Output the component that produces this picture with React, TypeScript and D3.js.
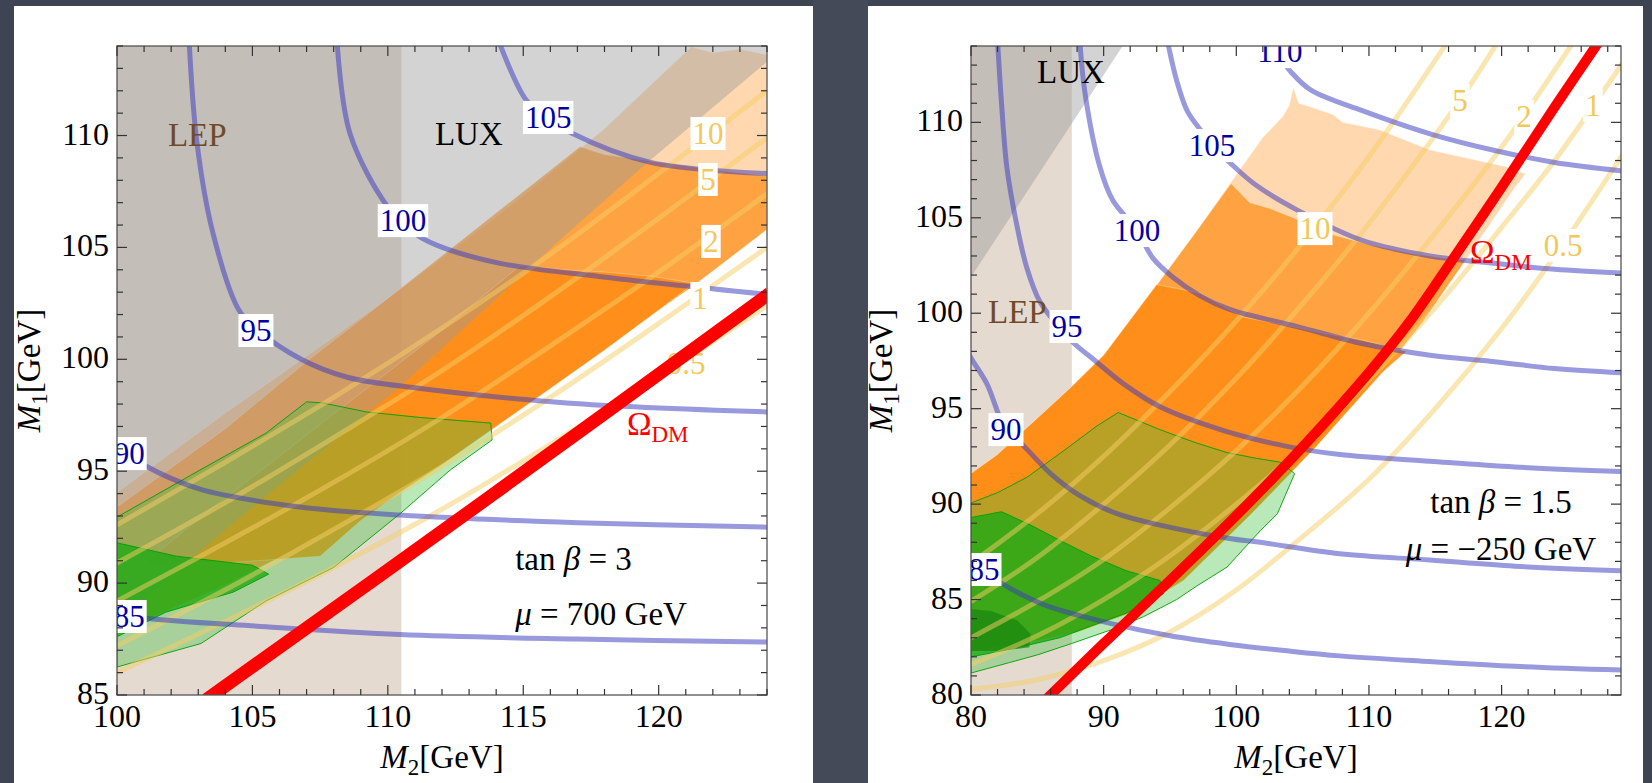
import React from 'react';
import * as d3 from 'd3';

type Pt = [number, number];

// ================= LEFT PANEL: tanβ = 3, μ = 700 GeV =================
const leftXDomain: Pt = [100, 124];
const leftYDomain: Pt = [85, 114];
const leftXMajor = [100, 105, 110, 115, 120];
const leftYMajor = [85, 90, 95, 100, 105, 110];
const leftLEPLimit = 110.5;

const leftLUX: Pt[] = [[100, 88.3], [105, 93.4], [110.45, 98.76], [116.6, 105.6], [119.6, 108.8], [124, 113.3], [124, 114.6], [100, 114.6]];

const leftLightTier: Pt[] = [
  [100, 94.05], [104, 97.6], [108, 101.0], [111, 103.6], [114.8, 107.1], [118, 110.3], [121.2, 113.95],
  [122, 113.7], [123, 113.85], [124, 113.6], [124, 105.8], [121.3, 103.3], [120, 102.2], [116, 98.7],
  [112, 95.3], [110.5, 94.1], [108, 92.4], [104, 89.9], [100, 87.8]];
const leftMediumTier: Pt[] = [
  [100, 93.4], [104, 96.9], [107, 99.9], [110.4, 103.1], [114.8, 107.3], [117.1, 109.5], [118, 109.15],
  [119.5, 108.9], [121, 108.65], [122.5, 108.4], [124, 108.2], [124, 105.8], [121.3, 103.3], [120, 102.2],
  [116, 98.7], [112, 95.3], [110.5, 94.1], [108, 92.4], [104, 89.9], [100, 87.8]];
const leftDarkTier: Pt[] = [
  [101.0, 90.9], [104.0, 93.8], [108.9, 98.4], [112.0, 101.3], [114.9, 104.2], [116.5, 104.0], [118.0, 103.9],
  [119.8, 103.7], [121.3, 103.4], [120, 102.2], [118, 100.4], [116, 98.7], [114, 97.0], [112, 95.3],
  [110.5, 94.1], [109, 92.8], [107.5, 91.2], [104, 90.9]];

const leftGreenLight: Pt[] = [
  [100, 92.95], [103.06, 95.05], [105.5, 96.7], [107.0, 98.1], [107.6, 98.05], [109.2, 97.65], [111.2, 97.4],
  [113.8, 97.15], [113.85, 96.4], [112.3, 95.05], [110.45, 93.1], [108, 90.7], [105.5, 89.2], [103.1, 87.3], [100, 86.25]];
const leftGreenMid: Pt[] = [[100, 91.8], [102.2, 91.2], [105.0, 90.8], [105.6, 90.4], [104.3, 89.6], [101.8, 88.7], [100, 87.6]];
const leftGreenDark: Pt[] = [];

const leftYellow: { level: string; pts: Pt[] }[] = [
  { level: '10', pts: [[100, 92.6], [104, 95.4], [108, 98.3], [112, 101.4], [116, 104.7], [120, 108.3], [124, 112.0]] },
  { level: '5', pts: [[100, 90.9], [104, 93.6], [108, 96.5], [112, 99.5], [116, 102.8], [120, 106.3], [124, 109.9]] },
  { level: '2', pts: [[100, 89.2], [104, 91.8], [108, 94.5], [112, 97.4], [116, 100.6], [120, 103.9], [124, 107.4]] },
  { level: '1', pts: [[100, 87.2], [104, 89.7], [108, 92.4], [112, 95.2], [116, 98.3], [120, 101.6], [124, 105.0]] },
  { level: '0.5', pts: [[100, 86.0], [104, 88.3], [108, 90.7], [112, 93.3], [116, 96.2], [120, 99.2], [124, 102.4]] },
];
const leftBlue: { level: string; pts: Pt[] }[] = [
  { level: '85', pts: [[100, 88.7], [100.96, 88.45], [105.5, 88.05], [110.45, 87.7], [117, 87.5], [124, 87.37]] },
  { level: '90', pts: [[100, 96.1], [100.96, 95.3], [103.06, 94.2], [106.76, 93.4], [110.45, 93.04], [117, 92.7], [124, 92.5]] },
  { level: '95', pts: [[102.66, 114.3], [102.95, 109.7], [103.55, 105.6], [104.5, 102.2], [105.1, 101.4], [106.8, 100.0], [108.5, 99.2], [111.2, 98.7], [116.6, 98.05], [124, 97.65]] },
  { level: '100', pts: [[108.12, 114.3], [108.6, 110.1], [110.0, 106.8], [110.9, 105.7], [111.8, 105.1], [114.1, 104.3], [117.8, 103.7], [124, 102.9]] },
  { level: '105', pts: [[114.07, 114.3], [115.1, 111.6], [115.9, 110.8], [116.8, 110.1], [119.7, 108.8], [124, 108.3]] },
];
const leftRelic: Pt[] = [[103.3, 84.8], [113.7, 93.8], [124.1, 102.95]];
const leftBlueLabels: { t: string; p: Pt }[] = [
  { t: '105', p: [115.92, 110.83] }, { t: '100', p: [110.56, 106.22] }, { t: '95', p: [105.13, 101.31] },
  { t: '90', p: [100.45, 95.81] }, { t: '85', p: [100.45, 88.53] }];
const leftYellowLabels: { t: string; p: Pt; box: boolean }[] = [
  { t: '10', p: [121.82, 110.11], box: true }, { t: '5', p: [121.82, 108.06], box: true },
  { t: '2', p: [121.93, 105.29], box: true }, { t: '1', p: [121.53, 102.74], box: true },
  { t: '0.5', p: [121.01, 99.83], box: false }];

// ================= RIGHT PANEL: tanβ = 1.5, μ = −250 GeV =================
const rightXDomain: Pt = [80, 129];
const rightYDomain: Pt = [80, 114];
const rightXMajor = [80, 90, 100, 110, 120];
const rightYMajor = [80, 85, 90, 95, 100, 105, 110];
const rightLEPLimit = 87.6;

const rightLUX: Pt[] = [[80, 101.9], [92.0, 114.6], [80, 114.6]];

const rightLightTier: Pt[] = [
  [80, 91.6], [82, 92.6], [85, 94.5], [87.5, 96.1], [90, 97.8], [94.25, 101.7], [97, 104.3], [99.75, 107.0],
  [102, 109.2], [103.5, 110.3], [104.0, 110.9], [104.3, 111.8], [104.7, 111.0], [105.6, 110.8], [107.3, 110.4],
  [108.0, 110.0], [110.8, 109.6], [114.6, 108.55], [117.5, 108.1], [120.4, 107.66], [121.8, 107.3], [121, 106.6],
  [117, 102.5], [114, 99.5], [111, 96.9], [106, 93.0], [101, 89.4], [96, 86.0], [92, 84.3], [88, 83.3], [84, 82.7], [80, 82.3]];
const rightMediumTier: Pt[] = [
  [80, 91.6], [82, 92.6], [85, 94.5], [87.5, 96.1], [90, 97.8], [94.25, 101.7], [97, 104.3], [99.6, 106.8],
  [101.0, 105.8], [102.5, 105.5], [104.3, 105.0], [106.8, 104.2], [110, 103.6], [113.1, 103.15], [115.6, 102.9],
  [117.3, 102.8], [117, 102.5], [114, 99.5], [111, 96.9], [106, 93.0], [101, 89.4], [96, 86.0], [92, 84.3],
  [88, 83.3], [84, 82.7], [80, 82.3]];
const rightDarkTier: Pt[] = [
  [80, 91.6], [82, 92.6], [85, 94.5], [87.5, 96.1], [90, 97.8], [94.0, 101.5], [95.5, 101.3], [97.3, 101.05],
  [100.5, 99.8], [104.3, 99.3], [107, 98.9], [109.55, 98.6], [111.6, 98.2], [112.8, 98.0], [111, 96.9],
  [106, 93.0], [101, 89.4], [96, 86.0], [92, 84.3], [88, 83.3], [84, 82.7], [80, 82.3]];

const rightGreenLight: Pt[] = [
  [80, 90.06], [82, 90.6], [84.2, 91.4], [87, 92.8], [89.5, 94.1], [91.1, 94.8], [92.5, 94.4], [94.25, 93.9],
  [97, 93.2], [99.3, 92.7], [101.5, 92.4], [103.3, 92.2], [104.4, 91.6], [103.1, 89.5], [101.8, 88.6],
  [99.3, 86.7], [97, 85.7], [95.5, 85.0], [93, 84.1], [90.5, 83.4], [87.6, 82.7], [85, 82.1], [82.9, 81.7], [80, 81.15]];
const rightGreenMid: Pt[] = [
  [80, 89.3], [82.3, 89.6], [84.5, 88.9], [86.7, 88.1], [89, 87.3], [91.75, 86.5], [94.25, 86.0], [94.5, 85.3],
  [93.5, 84.9], [91.75, 84.3], [89, 83.6], [86.7, 83.0], [83, 82.4], [80, 82.0]];
const rightGreenDark: Pt[] = [[80, 84.5], [81.5, 84.4], [83.5, 83.9], [84.5, 83.2], [84.4, 82.5], [82, 82.3], [80, 82.3]];

const rightYellow: { level: string; pts: Pt[] }[] = [
  { level: '10', pts: [[80, 86.9], [85, 89.5], [90, 92.5], [95, 95.9], [100, 99.6], [105, 103.7], [110, 108.2], [116, 114.3]] },
  { level: '5', pts: [[80, 84.9], [85, 87.2], [90, 90.0], [95, 93.1], [100, 96.6], [105, 100.5], [110, 104.7], [116.9, 111.2], [119.8, 114.3]] },
  { level: '2', pts: [[80, 83.0], [85, 84.9], [90, 87.1], [95, 89.8], [100, 92.8], [105, 96.2], [110, 100.0], [115, 104.2], [120, 108.7], [125.5, 114.3]] },
  { level: '1', pts: [[80, 81.6], [85, 83.1], [90, 85.0], [95, 87.3], [100, 90.0], [105, 93.0], [110, 96.5], [115, 100.3], [120, 104.5], [124, 108.0], [129.2, 113.2]] },
  { level: '0.5', pts: [[80, 80.3], [85, 80.8], [90, 81.8], [95, 83.3], [100, 85.5], [105, 88.3], [110, 91.3], [115, 95.0], [120, 99.2], [124.6, 103.6], [129.2, 108.4]] },
];
const rightBlue: { level: string; pts: Pt[] }[] = [
  { level: '85', pts: [[79.5, 87.4], [81.0, 86.6], [82.0, 86.0], [84, 85.2], [86, 84.6], [90.5, 83.75], [95, 83.1], [99.5, 82.65], [104, 82.3], [107.8, 82.05], [114.6, 81.75], [121, 81.5], [129.2, 81.3]] },
  { level: '90', pts: [[79.6, 98.2], [80, 97.65], [81.2, 96.3], [82.6, 93.93], [83.9, 93.1], [86, 91.6], [88.3, 90.4], [91, 89.5], [94.25, 88.9], [99.5, 88.2], [101.8, 88.0], [107.8, 87.4], [114.6, 87.07], [121, 86.75], [129.2, 86.5]] },
  { level: '95', pts: [[82.0, 114.3], [82.3, 111], [82.7, 107.66], [83.4, 104.8], [84.2, 102.4], [85.2, 100.6], [86.5, 99.4], [87.8, 98.4], [89.2, 97.6], [91.5, 96.3], [94.25, 95.1], [99.3, 93.8], [104, 93.0], [107.8, 92.6], [114.6, 92.25], [121, 91.95], [129.2, 91.7]] },
  { level: '100', pts: [[88.2, 114.3], [88.6, 111.5], [89.7, 107.7], [90.7, 105.9], [92.5, 104.36], [93.7, 102.9], [95.2, 101.9], [97.3, 100.9], [99.5, 100.2], [104.6, 99.3], [109.55, 98.4], [114.6, 97.8], [119.65, 97.45], [124, 97.1], [129.2, 96.87]] },
  { level: '105', pts: [[94.8, 114.3], [95.5, 112.2], [96.3, 110.6], [97.3, 109.6], [98.2, 108.8], [99.5, 107.9], [101.5, 106.7], [104.6, 105.4], [109.55, 103.8], [114.6, 103.0], [119.65, 102.6], [124, 102.3], [129.2, 102.1]] },
  { level: '110', pts: [[102.3, 114.3], [104.05, 112.7], [105.6, 111.7], [109.55, 110.6], [114.6, 109.4], [119.65, 108.5], [124, 107.9], [129.2, 107.45]] },
];
const rightRelic: Pt[] = [[85.7, 79.8], [90, 82.7], [95, 86.0], [100, 89.4], [105, 93.0], [110, 96.9], [113, 99.5], [116, 102.5], [120, 106.6], [124, 110.8], [127.7, 114.6]];
const rightBlueLabels: { t: string; p: Pt }[] = [
  { t: '110', p: [103.29, 113.73] }, { t: '105', p: [98.17, 108.81] }, { t: '100', p: [92.51, 104.36] },
  { t: '95', p: [87.24, 99.33] }, { t: '90', p: [82.64, 93.93] }, { t: '85', p: [80.98, 86.6] }];
const rightYellowLabels: { t: string; p: Pt; box: boolean }[] = [
  { t: '10', p: [105.93, 104.46], box: true }, { t: '5', p: [116.86, 111.17], box: true },
  { t: '2', p: [121.69, 110.33], box: true }, { t: '1', p: [126.89, 110.91], box: true },
  { t: '0.5', p: [124.63, 103.57], box: true }];

const FONT = '"Liberation Serif", "Times New Roman", Times, serif';

type PanelCfg = {
  id: string;
  xDomain: Pt; yDomain: Pt;
  px: [number, number]; py: [number, number];
  xMajor: number[]; yMajor: number[]; xMinorStep: number; yMinorStep: number;
  lep: number; lux: Pt[];
  tiers: Pt[][]; greens: Pt[][];
  yellow: { level: string; pts: Pt[] }[]; blue: { level: string; pts: Pt[] }[];
  relic: Pt[]; relicWidth: number;
  blueLabels: { t: string; p: Pt }[]; yellowLabels: { t: string; p: Pt; box: boolean }[];
  lepText: Pt; luxText: Pt; omegaText: Pt;
  tanText: string; muText: string; annot: Pt[]; annotAnchor: 'start' | 'middle';
  yTitleX: number;
};

function Panel({ c }: { c: PanelCfg }) {
  const x = d3.scaleLinear().domain(c.xDomain).range(c.px);
  const y = d3.scaleLinear().domain(c.yDomain).range(c.py);
  const closed = d3.line<Pt>().x(d => x(d[0])).y(d => y(d[1])).curve(d3.curveLinearClosed);
  const smooth = d3.line<Pt>().x(d => x(d[0])).y(d => y(d[1])).curve(d3.curveCatmullRom.alpha(0.5));
  const x0 = c.px[0], x1 = c.px[1], yb = c.py[0], yt = c.py[1];
  const W = x1 - x0, H = yb - yt;
  const clip = `clip-${c.id}`;
  const xMinor = d3.range(c.xDomain[0], c.xDomain[1] + 1e-6, c.xMinorStep);
  const yMinor = d3.range(c.yDomain[0], c.yDomain[1] + 1e-6, c.yMinorStep);
  const tierAlpha = [0.34, 0.7, 0.88];
  const greenFill = ['rgb(60,190,60)', 'rgb(30,170,20)', 'rgb(25,135,15)'];
  const greenAlpha = [0.36, 0.8, 0.75];
  const labelFs = 31;
  const boxW = (t: string) => t.replace('.', '').length * 15.5 + (t.includes('.') ? 8 : 0) + 4;
  const midX = (x0 + x1) / 2, midY = (yt + yb) / 2;

  return (
    <g fontFamily={FONT}>
      <defs>
        <clipPath id={clip}><rect x={x0} y={yt} width={W} height={H} /></clipPath>
      </defs>
      <g clipPath={`url(#${clip})`}>
        <rect x={x0} y={yt} width={W} height={H} fill="#ffffff" />
        <rect x={x0} y={yt} width={x(c.lep) - x0} height={H} fill="rgb(200,180,160)" fillOpacity={0.49} />
        {c.tiers.map((t, i) => (
          <path key={'t' + i} d={closed(t) || ''} fill="rgb(255,140,20)" fillOpacity={tierAlpha[i]}
            stroke="#fff3e0" strokeOpacity={0.35} strokeWidth={1} />
        ))}
        <path d={closed(c.lux) || ''} fill="rgb(156,156,156)" fillOpacity={0.444} />
        {c.greens.map((g, i) => g.length ? (
          <path key={'g' + i} d={closed(g) || ''} fill={greenFill[i]} fillOpacity={greenAlpha[i]}
            stroke="rgb(0,160,0)" strokeWidth={1} strokeOpacity={i === 2 ? 0 : 0.9} />
        ) : null)}
        {c.yellow.map(l => (
          <path key={'y' + l.level} d={smooth(l.pts) || ''} fill="none" stroke="rgb(245,205,100)" strokeOpacity={0.5} strokeWidth={5} />
        ))}
        {c.blue.map(l => (
          <path key={'b' + l.level} d={smooth(l.pts) || ''} fill="none" stroke="rgb(60,60,190)" strokeOpacity={0.52} strokeWidth={5} />
        ))}
        {c.yellowLabels.map(l => (
          <g key={'yl' + l.t}>
            {l.box && <rect x={x(l.p[0]) - boxW(l.t) / 2} y={y(l.p[1]) - 16} width={boxW(l.t)} height={33} fill="#fff" />}
            <text x={x(l.p[0])} y={y(l.p[1]) + 11} textAnchor="middle" fontSize={labelFs} fill="rgb(242,200,90)">{l.t}</text>
          </g>
        ))}
        <path d={smooth(c.relic) || ''} fill="none" stroke="#ff0000" strokeWidth={c.relicWidth} />
        {c.blueLabels.map(l => (
          <g key={'bl' + l.t}>
            <rect x={x(l.p[0]) - boxW(l.t) / 2} y={y(l.p[1]) - 16} width={boxW(l.t)} height={33} fill="#fff" />
            <text x={x(l.p[0])} y={y(l.p[1]) + 11} textAnchor="middle" fontSize={labelFs} fill="rgb(0,0,165)">{l.t}</text>
          </g>
        ))}
        <text x={x(c.lepText[0])} y={y(c.lepText[1])} fontSize={33} fill="rgb(110,75,42)">LEP</text>
        <text x={x(c.luxText[0])} y={y(c.luxText[1])} fontSize={33} fill="#000">LUX</text>
        <text x={x(c.omegaText[0])} y={y(c.omegaText[1])} fontSize={33} fill="#ff0000">
          Ω<tspan fontSize={23} dy={7}>DM</tspan>
        </text>
        <text x={x(c.annot[0][0])} y={y(c.annot[0][1])} fontSize={33} fill="#000" textAnchor={c.annotAnchor}>
          tan <tspan fontStyle="italic">β</tspan> = {c.tanText}
        </text>
        <text x={x(c.annot[1][0])} y={y(c.annot[1][1])} fontSize={33} fill="#000" textAnchor={c.annotAnchor}>
          <tspan fontStyle="italic">μ</tspan> = {c.muText}
        </text>
      </g>
      <rect x={x0} y={yt} width={W} height={H} fill="none" stroke="#555" strokeWidth={1.3} />
      {xMinor.map(v => {
        const major = c.xMajor.some(m => Math.abs(m - v) < 1e-6);
        const L = major ? 10 : 6;
        return (
          <g key={'xt' + v} stroke="#333" strokeWidth={1.2}>
            <line x1={x(v)} x2={x(v)} y1={yb} y2={yb - L} />
            <line x1={x(v)} x2={x(v)} y1={yt} y2={yt + L} />
          </g>
        );
      })}
      {yMinor.map(v => {
        const major = c.yMajor.some(m => Math.abs(m - v) < 1e-6);
        const L = major ? 10 : 6;
        return (
          <g key={'yt' + v} stroke="#333" strokeWidth={1.2}>
            <line x1={x0} x2={x0 + L} y1={y(v)} y2={y(v)} />
            <line x1={x1} x2={x1 - L} y1={y(v)} y2={y(v)} />
          </g>
        );
      })}
      {c.xMajor.map(v => (
        <text key={'xl' + v} x={x(v)} y={yb + 32} textAnchor="middle" fontSize={32} fill="#000">{v}</text>
      ))}
      {c.yMajor.map(v => (
        <text key={'yl' + v} x={x0 - 8} y={y(v) + 9} textAnchor="end" fontSize={32} fill="#000">{v}</text>
      ))}
      <text x={midX} y={768} textAnchor="middle" fontSize={33} fill="#000">
        <tspan fontStyle="italic">M</tspan><tspan fontSize={23} dy={7}>2</tspan><tspan dy={-7}>[GeV]</tspan>
      </text>
      <text transform={`translate(${c.yTitleX},${midY}) rotate(-90)`} textAnchor="middle" fontSize={33} fill="#000">
        <tspan fontStyle="italic">M</tspan><tspan fontSize={23} dy={7}>1</tspan><tspan dy={-7}>[GeV]</tspan>
      </text>
    </g>
  );
}

const leftCfg: PanelCfg = {
  id: 'L', xDomain: leftXDomain, yDomain: leftYDomain, px: [117, 767], py: [695, 46],
  xMajor: leftXMajor, yMajor: leftYMajor, xMinorStep: 1, yMinorStep: 1,
  lep: leftLEPLimit, lux: leftLUX,
  tiers: [leftLightTier, leftMediumTier, leftDarkTier],
  greens: [leftGreenLight, leftGreenMid, leftGreenDark],
  yellow: leftYellow, blue: leftBlue, relic: leftRelic, relicWidth: 13,
  blueLabels: leftBlueLabels, yellowLabels: leftYellowLabels,
  lepText: [101.88, 109.53], luxText: [111.74, 109.58], omegaText: [118.83, 96.62],
  tanText: '3', muText: '700 GeV', annot: [[114.7, 90.59], [114.7, 88.13]], annotAnchor: 'start',
  yTitleX: 40,
};

const rightCfg: PanelCfg = {
  id: 'R', xDomain: rightXDomain, yDomain: rightYDomain, px: [971, 1621], py: [695, 46],
  xMajor: rightXMajor, yMajor: rightYMajor, xMinorStep: 2, yMinorStep: 1,
  lep: rightLEPLimit, lux: rightLUX,
  tiers: [rightLightTier, rightMediumTier, rightDarkTier],
  greens: [rightGreenLight, rightGreenMid, rightGreenDark],
  yellow: rightYellow, blue: rightBlue, relic: rightRelic, relicWidth: 10,
  blueLabels: rightBlueLabels, yellowLabels: rightYellowLabels,
  lepText: [81.28, 99.49], luxText: [84.98, 112.06], omegaText: [117.62, 102.63],
  tanText: '1.5', muText: '\u2212250 GeV', annot: [[119.95, 89.53], [119.95, 87.07]], annotAnchor: 'middle',
  yTitleX: 892,
};

export default function App() {
  return (
    <div style={{ position: 'absolute', left: 0, top: 0, width: 1652, height: 783, overflow: 'hidden' }}>
      <svg width={1652} height={783} style={{ display: 'block' }}>
        <rect x={0} y={0} width={1652} height={783} fill="#3f4453" />
        <rect x={813} y={0} width={55} height={783} fill="#454a58" />
        <rect x={14} y={6} width={799} height={790} fill="#ffffff" />
        <rect x={868} y={6} width={775} height={790} fill="#ffffff" />
        <Panel c={leftCfg} />
        <Panel c={rightCfg} />
      </svg>
    </div>
  );
}
